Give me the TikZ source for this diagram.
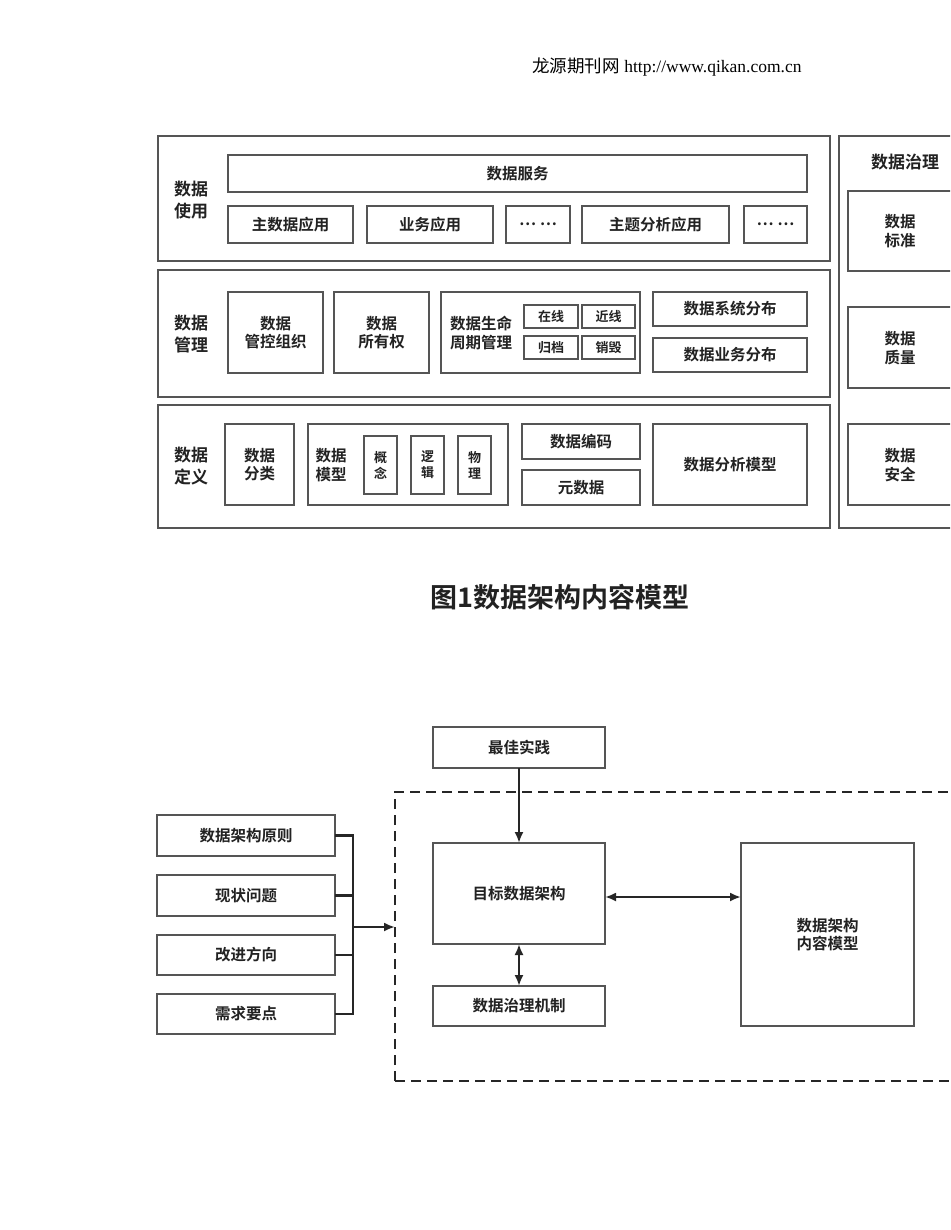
\documentclass[tikz,border=0pt]{standalone}
\usepackage{fontspec}
\setmainfont{Liberation Serif}
\newfontfamily\cjk{Noto Sans CJK SC}[BoldFont={Noto Sans CJK SC Bold}]
\newfontfamily\cjkr{Noto Sans CJK SC}
\usetikzlibrary{arrows.meta}
\definecolor{ln}{HTML}{555555}
\definecolor{tx}{HTML}{222222}
\newcommand{\bx}[7][]{\node[box,#1,minimum width={(#5-#3)*1pt},minimum height={(#6-#4)*1pt}] (#2) at ({(#3+#5)/2},{(#4+#6)/2}) {#7};}
\begin{document}
\begin{tikzpicture}[x=1pt,y=-1pt,
  box/.style={draw=ln,line width=1.4pt,inner sep=0pt,outer sep=0pt,align=center,font=\cjk\bfseries\fontsize{15.5}{18.5}\selectfont,text=tx},
  lbl/.style={align=center,font=\cjk\bfseries\fontsize{17}{22}\selectfont,text=tx,inner sep=0pt},
  sm/.style={font=\cjk\bfseries\fontsize{13}{16}\selectfont},
  con/.style={draw=black!85,line width=2.4pt},
  arr/.style={con,-{Latex[length=11pt,width=9pt]}},
  darr/.style={con,{Latex[length=11pt,width=9pt]}-{Latex[length=11pt,width=9pt]}}]
\useasboundingbox (0,0) rectangle (950,1230);
\clip (0,0) rectangle (950,1230);
\fill[white] (0,0) rectangle (950,1230);
\node[font=\fontsize{17.5}{20}\selectfont] (hdr) at (667,67) {{\cjkr 龙源期刊网} http://www.qikan.com.cn};
% layers
\bx{L1}{158}{136}{830}{261}{}
\bx{L2}{158}{270}{830}{397}{}
\bx{L3}{158}{405}{830}{528}{}
\node[lbl] (l1) at (191,200) {数据\\使用};
\node[lbl] (l2) at (191,334) {数据\\管理};
\node[lbl] (l3) at (191,466) {数据\\定义};
\bx{fw}{228}{155}{807}{192}{数据服务}
\bx{a1}{228}{206}{353}{243}{主数据应用}
\bx{a2}{367}{206}{493}{243}{业务应用}
\bx{a3}{506}{206}{570}{243}{… …}
\bx{a4}{582}{206}{729}{243}{主题分析应用}
\bx{a5}{744}{206}{807}{243}{… …}
\bx{m1}{228}{292}{323}{373}{数据\\管控组织}
\bx{m2}{334}{292}{429}{373}{数据\\所有权}
\bx{m3}{441}{292}{640}{373}{}
\node[box,draw=none,align=left] (m3t) at (481,333) {数据生命\\周期管理};
\bx[sm]{s1}{524}{305}{578}{328}{在线}
\bx[sm]{s2}{582}{305}{635}{328}{近线}
\bx[sm]{s3}{524}{336}{578}{359}{归档}
\bx[sm]{s4}{582}{336}{635}{359}{销毁}
\bx{m4}{653}{292}{807}{326}{数据系统分布}
\bx{m5}{653}{338}{807}{372}{数据业务分布}
\bx{d1}{225}{424}{294}{505}{数据\\分类}
\bx{d2}{308}{424}{508}{505}{}
\node[box,draw=none] (d2t) at (331,465) {数据\\模型};
\bx[sm]{c1}{364}{436}{397}{494}{概\\念}
\bx[sm]{c2}{411}{436}{444}{494}{逻\\辑}
\bx[sm]{c3}{458}{436}{491}{494}{物\\理}
\bx{d3}{522}{424}{640}{459}{数据编码}
\bx{d4}{522}{470}{640}{505}{元数据}
\bx{d5}{653}{424}{807}{505}{数据分析模型}
% governance column
\bx{G}{839}{136}{990}{528}{}
\node[lbl] (gt) at (905,162) {数据治理};
\bx{g1}{848}{191}{990}{271}{}
\bx{g2}{848}{307}{990}{388}{}
\bx{g3}{848}{424}{990}{505}{}
\node[box,draw=none] (g1t) at (900,231) {数据\\标准};
\node[box,draw=none] (g2t) at (900,348) {数据\\质量};
\node[box,draw=none] (g3t) at (900,465) {数据\\安全};
\node[font=\cjk\bfseries\fontsize{27}{30}\selectfont,text=tx] (cap) at (560,597) {图1数据架构内容模型};
% bottom
\draw[draw=black!85,line width=2.4pt,dash pattern=on 10pt off 6pt] (395,1081) -- (395,792) -- (990,792);
\draw[draw=black!85,line width=2.4pt,dash pattern=on 10pt off 6pt] (395,1081) -- (990,1081);
\bx{bp}{433}{727}{605}{768}{最佳实践}
\bx{tg}{433}{843}{605}{944}{目标数据架构}
\bx{gm}{433}{986}{605}{1026}{数据治理机制}
\bx{cm}{741}{843}{914}{1026}{数据架构\\内容模型}
\bx{i1}{157}{815}{335}{856}{数据架构原则}
\bx{i2}{157}{875}{335}{916}{现状问题}
\bx{i3}{157}{935}{335}{975}{改进方向}
\bx{i4}{157}{994}{335}{1034}{需求要点}
\coordinate (jn) at (353,927);
\coordinate (dl) at (395,927);
\draw[con] (i1.east) -| (jn);
\draw[con] (i4.east) -| (jn);
\draw[con] (i2.east) -- (i2.east -| jn);
\draw[con] (i3.east) -- (i3.east -| jn);
\draw[arr] (jn) -- (dl);
\draw[arr] (bp) -- (tg);
\draw[darr] (tg.east |- 0,897) -- (cm.west |- 0,897);
\draw[darr] (tg) -- (gm);
\end{tikzpicture}
\end{document}
